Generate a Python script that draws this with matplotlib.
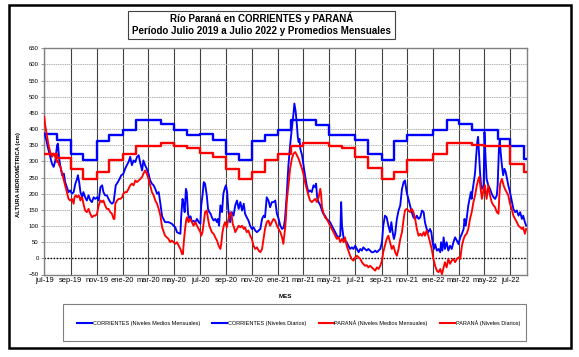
import pandas as pd
import matplotlib
matplotlib.use("Agg")
import matplotlib.pyplot as plt
from matplotlib.patches import Rectangle
from matplotlib.lines import Line2D

plt.rcParams['font.family'] = ['Liberation Sans', 'DejaVu Sans']

# --- datos ---
inicio = pd.Timestamp("2019-07-01")
fin = pd.Timestamp("2022-08-09")

etiquetas_x = ["jul-19", "sep-19", "nov-19", "ene-20", "mar-20", "may-20", "jul-20",
               "sep-20", "nov-20", "ene-21", "mar-21", "may-21", "jul-21", "sep-21",
               "nov-21", "ene-22", "mar-22", "may-22", "jul-22"]

# niveles medios mensuales, jul-19 .. ago-22
corr_mensual = [386, 365, 324, 303, 362, 381, 398, 427, 427, 416, 398, 383,
                386, 365, 324, 303, 362, 381, 398, 427, 427, 414, 383, 383,
                367, 324, 303, 362, 381, 381, 398, 427, 417, 398, 398, 368,
                347, 306]
par_mensual = [322, 312, 277, 245, 268, 305, 323, 348, 348, 357, 348, 340,
               325, 313, 277, 245, 268, 305, 324, 348, 356, 356, 348, 340,
               313, 279, 245, 268, 305, 305, 324, 356, 356, 350, 348, 348,
               292, 268]

# niveles diarios (dias desde 01-07-2019, cm)
corr_dias = [0, 4, 9, 14, 18, 22, 26, 30, 32, 35, 38, 42, 46, 49, 53, 57, 61, 65, 69, 73,
             77, 79, 82, 85, 89, 92, 96, 100, 104, 108, 112, 116, 120, 124, 128, 132, 136, 139, 143, 147,
             151, 155, 159, 163, 165, 168, 173, 177, 181, 186, 190, 194, 198, 202, 206, 210, 214, 218, 222, 226,
             230, 233, 237, 241, 245, 249, 253, 257, 261, 265, 269, 273, 277, 284, 292, 300, 304, 308, 312, 316,
             320, 322, 325, 328, 330, 333, 335, 338, 341, 344, 347, 351, 355, 359, 363, 367, 369, 372, 375, 378,
             382, 385, 388, 391, 394, 398, 402, 406, 408, 411, 414, 418, 421, 424, 427, 430, 433, 437, 441, 445,
             449, 453, 457, 461, 465, 469, 472, 476, 480, 484, 488, 492, 496, 500, 504, 508, 512, 516, 519, 523,
             527, 531, 535, 539, 543, 547, 551, 555, 559, 563, 566, 570, 574, 578, 582, 586, 588, 591, 594, 596,
             598, 600, 602, 606, 610, 613, 617, 621, 625, 629, 633, 637, 639, 642, 645, 649, 653, 656, 660, 664,
             668, 672, 676, 680, 684, 688, 692, 696, 698, 700, 704, 707, 711, 715, 719, 723, 727, 731, 735, 739,
             743, 747, 750, 754, 758, 762, 766, 770, 774, 778, 782, 786, 790, 794, 797, 801, 805, 809, 813, 816,
             819, 822, 825, 829, 833, 837, 841, 845, 848, 852, 856, 860, 864, 868, 872, 876, 880, 884, 888, 892,
             895, 899, 903, 907, 910, 913, 916, 919, 923, 927, 931, 933, 936, 939, 942, 946, 950, 954, 958, 962,
             966, 970, 974, 978, 982, 986, 988, 991, 994, 997, 1000, 1003, 1005, 1007, 1011, 1013, 1015, 1018, 1020, 1022,
             1025, 1027, 1029, 1033, 1035, 1037, 1040, 1044, 1048, 1052, 1056, 1060, 1064, 1066, 1069, 1071, 1073, 1076, 1079, 1082,
             1085, 1088, 1091, 1095, 1099, 1103, 1107, 1111, 1115, 1119, 1123, 1126, 1130, 1133]
corr_diario = [386, 370, 340, 314, 293, 283, 303, 350, 355, 308, 283, 257, 262, 236, 220, 205, 210, 200, 205, 231,
               246, 257, 236, 205, 189, 205, 189, 179, 195, 180, 174, 189, 184, 189, 179, 220, 226, 205, 195, 195,
               184, 174, 169, 174, 195, 226, 236, 246, 257, 262, 277, 288, 298, 314, 288, 303, 298, 314, 319, 293,
               272, 303, 288, 277, 262, 241, 231, 226, 215, 200, 205, 169, 130, 112, 112, 107, 101, 96, 81, 78,
               76, 132, 184, 164, 143, 215, 205, 138, 122, 130, 112, 116, 112, 122, 112, 107, 164, 195, 236, 231,
               195, 153, 143, 138, 127, 117, 122, 112, 122, 101, 164, 143, 200, 215, 226, 205, 143, 112, 143, 132,
               164, 179, 153, 174, 148, 169, 138, 127, 117, 101, 91, 96, 86, 81, 86, 91, 122, 132, 127, 189,
               179, 158, 174, 174, 179, 138, 122, 101, 91, 95, 122, 195, 288, 350, 402, 448, 479, 455, 412, 376,
               360, 370, 339, 319, 283, 257, 226, 205, 210, 205, 226, 220, 231, 184, 174, 164, 148, 138, 132, 122,
               117, 112, 101, 91, 81, 70, 65, 70, 174, 101, 60, 55, 50, 39, 29, 34, 29, 39, 29, 19,
               29, 24, 34, 29, 24, 29, 24, 19, 19, 24, 19, 24, 29, 50, 101, 132, 127, 101, 81, 112,
               81, 60, 76, 122, 148, 164, 215, 236, 241, 205, 184, 164, 143, 127, 122, 132, 122, 127, 148, 143,
               112, 91, 81, 91, 81, 50, 29, 44, 24, 29, 19, 50, 24, 65, 29, 50, 24, 39, 29, 50,
               65, 55, 44, 65, 76, 91, 122, 101, 132, 164, 184, 205, 184, 210, 246, 267, 308, 360, 376, 329,
               257, 226, 215, 226, 391, 329, 246, 226, 215, 200, 190, 184, 195, 226, 339, 370, 329, 288, 257, 277,
               267, 246, 226, 205, 179, 153, 143, 148, 132, 143, 122, 132, 112, 101]

par_dias = [0, 2, 6, 10, 14, 18, 22, 26, 30, 32, 35, 38, 42, 46, 49, 53, 57, 61, 65, 69,
            71, 74, 77, 81, 85, 87, 90, 92, 96, 100, 104, 108, 112, 116, 120, 124, 128, 132, 136, 139,
            143, 147, 151, 155, 159, 163, 165, 167, 171, 175, 179, 183, 186, 190, 194, 198, 202, 206, 210, 214,
            218, 222, 226, 230, 233, 237, 241, 245, 249, 253, 257, 261, 265, 269, 273, 277, 281, 284, 288, 292,
            296, 300, 304, 308, 312, 316, 320, 324, 326, 328, 331, 334, 336, 339, 343, 347, 351, 355, 359, 363,
            367, 369, 372, 375, 378, 382, 385, 388, 391, 394, 398, 402, 406, 410, 414, 416, 419, 422, 425, 429,
            433, 437, 440, 443, 446, 449, 453, 457, 461, 465, 469, 472, 476, 480, 484, 488, 492, 496, 500, 504,
            508, 512, 516, 519, 523, 527, 531, 535, 539, 543, 547, 551, 555, 559, 562, 566, 568, 570, 574, 578,
            582, 586, 590, 594, 598, 602, 606, 610, 613, 617, 621, 625, 629, 633, 637, 641, 645, 649, 651, 653,
            656, 660, 664, 668, 672, 676, 680, 684, 688, 692, 696, 700, 704, 707, 711, 715, 719, 723, 727, 731,
            735, 739, 743, 747, 750, 754, 758, 762, 766, 770, 774, 778, 782, 786, 790, 794, 797, 801, 805, 809,
            813, 817, 821, 825, 829, 833, 837, 841, 845, 848, 852, 856, 860, 864, 868, 872, 876, 880, 884, 888,
            892, 895, 899, 903, 907, 911, 915, 919, 923, 927, 931, 935, 939, 942, 946, 950, 954, 958, 962, 966,
            970, 974, 978, 982, 986, 989, 993, 997, 1001, 1005, 1009, 1013, 1017, 1021, 1023, 1025, 1029, 1033, 1036, 1040,
            1044, 1048, 1052, 1056, 1060, 1064, 1068, 1070, 1072, 1076, 1080, 1083, 1087, 1091, 1095, 1099, 1103, 1107, 1111, 1115,
            1119, 1123, 1126, 1130, 1133]
par_diario = [438, 412, 381, 350, 329, 314, 324, 314, 298, 303, 288, 283, 262, 241, 226, 205, 184, 179, 184, 169,
              189, 195, 189, 195, 179, 189, 184, 169, 148, 143, 153, 138, 127, 132, 132, 138, 164, 179, 174, 179,
              164, 153, 153, 143, 138, 122, 122, 169, 179, 184, 184, 189, 200, 205, 205, 215, 226, 231, 226, 241,
              236, 241, 246, 252, 262, 272, 262, 246, 226, 205, 195, 179, 169, 153, 132, 96, 81, 70, 65, 60,
              50, 55, 50, 45, 50, 39, 29, 13, 13, 50, 91, 122, 127, 112, 122, 112, 101, 112, 101, 91,
              81, 70, 81, 112, 143, 148, 122, 101, 91, 81, 76, 65, 55, 39, 29, 44, 81, 101, 112, 96,
              122, 143, 138, 107, 96, 81, 91, 101, 96, 101, 91, 96, 81, 86, 70, 60, 39, 29, 34, 24,
              19, 29, 65, 91, 112, 117, 101, 112, 122, 117, 101, 91, 81, 65, 45, 90, 122, 174, 226, 277,
              308, 324, 329, 319, 308, 293, 277, 257, 236, 215, 195, 179, 174, 179, 184, 174, 189, 215, 195, 158,
              143, 127, 122, 112, 101, 91, 81, 70, 60, 65, 50, 60, 50, 65, 39, 24, 8, -2, -7, 3,
              8, 3, -2, -12, -17, -23, -21, -28, -23, -28, -33, -38, -28, -33, -23, -7, 19, 39, 60, 70,
              50, 29, 39, 19, 8, 29, 60, 81, 122, 148, 153, 148, 143, 153, 143, 122, 91, 70, 76, 70,
              81, 70, 86, 70, 50, 29, -2, -23, -38, -43, -33, -49, -28, -12, -28, -2, -17, -7, -2, -12,
              -2, 3, -2, 39, 60, 70, 76, 91, 122, 143, 174, 195, 226, 246, 252, 226, 184, 215, 226, 184,
              226, 195, 174, 164, 158, 143, 138, 195, 231, 246, 226, 215, 205, 195, 169, 153, 132, 122, 112, 101,
              96, 91, 96, 76, 91]

# --- figura ---
fig = plt.figure(figsize=(5.79, 3.57), dpi=100)
W, H = 579.0, 357.0
ax = fig.add_axes([44.3 / W, 1 - 274.5 / H, (527 - 44.3) / W, (274.5 - 48.3) / H])

meses = pd.date_range(inicio, periods=len(corr_mensual), freq="MS")
x_mes = list(meses) + [fin]

ax.plot(x_mes, corr_mensual + [corr_mensual[-1]], drawstyle="steps-post", color="#0000ff", lw=1.7, zorder=3)
ax.plot(inicio + pd.to_timedelta(corr_dias, unit="D"), corr_diario, color="#0000ff", lw=1.35, zorder=3)
ax.plot(x_mes, par_mensual + [par_mensual[-1]], drawstyle="steps-post", color="#ff0000", lw=1.7, zorder=4)
ax.plot(inicio + pd.to_timedelta(par_dias, unit="D"), par_diario, color="#ff0000", lw=1.35, zorder=4)

ax.axhline(0, color="black", lw=1.0, ls=(0, (1, 1.2)), zorder=2)

ax.set_xlim(inicio, fin)
ax.set_ylim(-50, 650)
ax.set_yticks(range(-50, 651, 50))
ax.tick_params(axis="y", labelsize=4.3, length=2.5, width=0.6, color="#808080", pad=1.5)

ticks_x = pd.date_range(inicio, periods=len(etiquetas_x), freq="2MS")
ax.set_xticks(ticks_x)
ax.set_xticklabels(etiquetas_x)
ax.tick_params(axis="x", labelsize=5.4, length=0, pad=1.5)

ax.yaxis.grid(True, color="#b4b4b4", lw=0.7, ls=(0, (1.5, 0.8)))
ax.xaxis.grid(True, color="#404040", lw=0.8)
ax.set_axisbelow(True)
for s in ax.spines.values():
    s.set_color("#808080")
    s.set_linewidth(1.0)

# marco exterior
fig.patches.append(Rectangle((9 / W, 1 - 348 / H), (571 - 9) / W, (348 - 5) / H,
                             transform=fig.transFigure, fill=False, lw=1.8, edgecolor="black"))

# titulo
fig.patches.append(Rectangle((128 / W, 1 - 39 / H), (395 - 128) / W, (39 - 11) / H,
                             transform=fig.transFigure, fill=False, lw=0.8, edgecolor="#404040"))
fig.text(261.5 / W, 1 - 18.5 / H, "Río Paraná en CORRIENTES y PARANÁ",
         ha="center", va="center", fontsize=7, fontweight="bold")
fig.text(261.5 / W, 1 - 31.5 / H, "Período Julio 2019 a Julio 2022 y Promedios Mensuales",
         ha="center", va="center", fontsize=7, fontweight="bold")

fig.text(18 / W, 1 - 175 / H, "ALTURA HIDROMÉTRICA (cm)", rotation=90,
         ha="center", va="center", fontsize=4.2, fontweight="bold")
fig.text(285 / W, 1 - 297 / H, "MES", ha="center", va="center", fontsize=4.5, fontweight="bold")

# leyenda
fig.patches.append(Rectangle((63 / W, 1 - 341 / H), (526 - 63) / W, (341 - 303.5) / H,
                             transform=fig.transFigure, fill=False, lw=0.8, edgecolor="#808080"))
nombres = ["CORRIENTES (Niveles Medios Mensuales)", "CORRIENTES (Niveles Diarios)",
           "PARANÁ (Niveles Medios Mensuales)", "PARANÁ (Niveles Diarios)"]
colores = ["#0000ff", "#0000ff", "#ff0000", "#ff0000"]
manejadores = [Line2D([], [], color=c, lw=1.5) for c in colores]
fig.legend(manejadores, nombres, loc="center", ncol=4, mode="expand",
           bbox_to_anchor=(77 / W, 1 - 322.5 / H, (520 - 77) / W, 0),
           frameon=False, fontsize=4, handlelength=2.7, handletextpad=0.1,
           borderpad=0, borderaxespad=0)

fig.savefig("out.png", dpi=100, facecolor="white")
